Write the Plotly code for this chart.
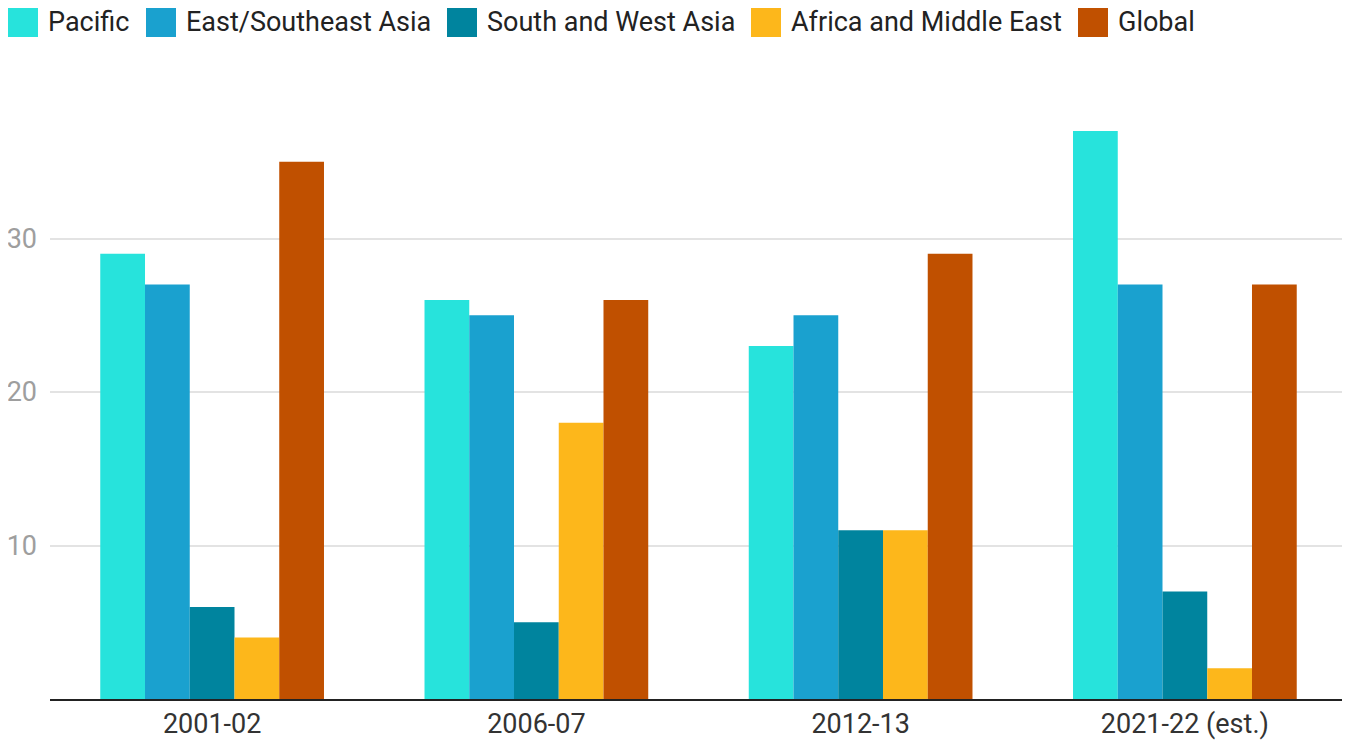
import plotly.graph_objects as go

categories = ["2001-02", "2006-07", "2012-13", "2021-22 (est.)"]
series_names = ["Pacific", "East/Southeast Asia", "South and West Asia", "Africa and Middle East", "Global"]
pacific = [29, 26, 23, 37]
east_se_asia = [27, 25, 25, 27]
south_west_asia = [6, 5, 11, 7]
africa_me = [4, 18, 11, 2]
global_vals = [35, 26, 29, 27]
colors = ["#27e3dc", "#1aa1cf", "#00849e", "#fdb71b", "#c05000"]
y_ticks = [10, 20, 30]

all_values = [pacific, east_se_asia, south_west_asia, africa_me, global_vals]

# Plot area in screen pixels (for legend placement)
PL, PR, PT, PB = 50, 1347, 85, 699
def px_x(px):
    return (px - PL) / (PR - PL)
def px_y(py):
    return (PB - py) / (PB - PT)

fig = go.Figure()
for name, vals, col in zip(series_names, all_values, colors):
    fig.add_trace(go.Bar(x=categories, y=vals, name=name, showlegend=False,
                         marker=dict(color=col, line=dict(width=0))))

# custom legend with large square swatches
legend_swatch_x = [8, 146, 447, 751, 1078]
shapes = []
annotations = []
for name, col, sx in zip(series_names, colors, legend_swatch_x):
    shapes.append(dict(type="rect", xref="paper", yref="paper",
                       x0=px_x(sx), x1=px_x(sx + 30), y0=px_y(37), y1=px_y(7),
                       fillcolor=col, line=dict(width=0), layer="above"))
    annotations.append(dict(xref="paper", yref="paper", x=px_x(sx + 38), y=px_y(22),
                            xanchor="left", yanchor="middle", text=name, showarrow=False,
                            font=dict(size=27, color="#222222", family="Roboto")))

fig.update_layout(
    width=1350, height=740,
    barmode="group", bargap=0.31, bargroupgap=0,
    plot_bgcolor="white", paper_bgcolor="white",
    font=dict(family="Roboto", size=27, color="#333333"),
    margin=dict(l=42, r=11, t=77, b=49, autoexpand=False),
    showlegend=False,
    shapes=shapes, annotations=annotations,
    xaxis=dict(type="category", showline=True, linecolor="#222222", linewidth=2, ticks="",
               automargin=False, tickfont=dict(size=27, color="#333333")),
    yaxis=dict(range=[0, 40], tickvals=y_ticks, showgrid=True, gridcolor="#e3e3e3",
               gridwidth=1.5, zeroline=False, showline=False, ticks="", automargin=False,
               tickfont=dict(size=27, color="#9e9e9e"), ticklabelstandoff=12),
)

fig.write_html("out.html")
